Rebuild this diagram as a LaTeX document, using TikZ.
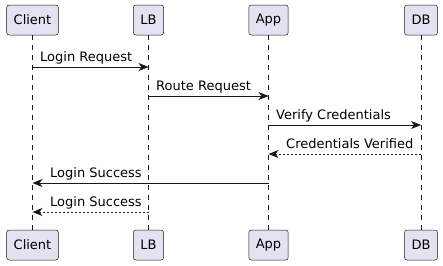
\documentclass[tikz,border=0pt]{standalone}
\usepackage{fontspec}
\setmainfont{DejaVu Sans}
\usetikzlibrary{arrows.meta}
\definecolor{ink}{HTML}{181818}
\definecolor{partfill}{HTML}{E2E2F0}
\tikzset{
  x=1pt, y=-1pt,
  participant/.style={draw=ink, line width=0.5pt, fill=partfill, rounded corners=2.5pt,
    minimum height=30pt, inner xsep=7pt, inner ysep=0pt, font=\fontsize{13}{15}\selectfont, text=black},
  lifeline/.style={draw=ink, line width=0.5pt, dash pattern=on 5pt off 5pt},
  msg/.style={draw=ink, line width=1pt, -{Stealth[length=10pt,width=8pt,inset=3pt]}},
  reply/.style={msg, dash pattern=on 2pt off 2pt},
  lbl/.style={font=\fontsize{13}{15}\selectfont, text=black, inner sep=0pt, anchor=base west}
}
\begin{document}
\begin{tikzpicture}
\useasboundingbox (0,0) rectangle (443,265);
% participants, head and foot
\foreach \name/\txt/\xx in {C/Client/32.5, L/LB/148.5, A/App/268.5, D/DB/421} {
  \node[participant] (\name top) at (\xx,20) {\txt};
  \node[participant] (\name bot) at (\xx,245) {\txt};
  \draw[lifeline] (\name top.south) -- (\name bot.north);
}
% message rows
\foreach \i/\yy in {1/67, 2/96, 3/125, 4/154, 5/183, 6/212} {
  \coordinate (m\i) at (0,\yy);
}
\draw[msg] (Ctop |- m1) -- (Ltop |- m1);
\node[lbl] at ([xshift=7.5pt,yshift=5.5pt]Ctop |- m1) {Login Request};
\draw[msg] (Ltop |- m2) -- (Atop |- m2);
\node[lbl] at ([xshift=7.5pt,yshift=5.5pt]Ltop |- m2) {Route Request};
\draw[msg] (Atop |- m3) -- (Dtop |- m3);
\node[lbl] at ([xshift=7.5pt,yshift=5.5pt]Atop |- m3) {Verify Credentials};
\draw[reply] (Dtop |- m4) -- (Atop |- m4);
\node[lbl] at ([xshift=17.5pt,yshift=5.5pt]Atop |- m4) {Credentials Verified};
\draw[msg] (Atop |- m5) -- (Ctop |- m5);
\node[lbl] at ([xshift=17.5pt,yshift=5.5pt]Ctop |- m5) {Login Success};
\draw[reply] (Ltop |- m6) -- (Ctop |- m6);
\node[lbl] at ([xshift=17.5pt,yshift=5.5pt]Ctop |- m6) {Login Success};
\end{tikzpicture}
\end{document}
